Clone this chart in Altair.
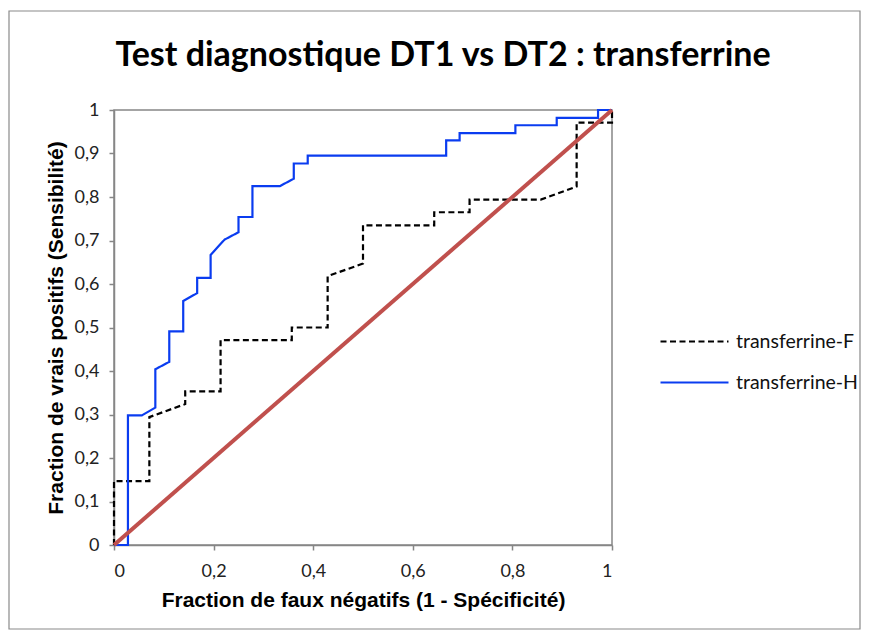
import altair as alt
import pandas as pd

# ROC curve points
h_x = [0.0, 0.028, 0.028, 0.056, 0.083, 0.083, 0.111, 0.111, 0.139, 0.139, 0.167, 0.167,
       0.194, 0.194, 0.222, 0.250, 0.250, 0.278, 0.278, 0.333, 0.361, 0.361, 0.389, 0.389,
       0.667, 0.667, 0.694, 0.694, 0.806, 0.806, 0.889, 0.889, 0.972, 0.972, 1.0]
h_y = [0.0, 0.0, 0.298, 0.298, 0.316, 0.404, 0.421, 0.491, 0.491, 0.561, 0.579, 0.614,
       0.614, 0.667, 0.702, 0.719, 0.754, 0.754, 0.825, 0.825, 0.842, 0.877, 0.877, 0.895,
       0.895, 0.930, 0.930, 0.947, 0.947, 0.965, 0.965, 0.982, 0.982, 1.0, 1.0]

f_x = [0.0, 0.0, 0.071, 0.071, 0.143, 0.143, 0.214, 0.214, 0.357, 0.357, 0.429, 0.429,
       0.500, 0.500, 0.643, 0.643, 0.714, 0.714, 0.857, 0.929, 0.929, 1.0, 1.0]
f_y = [0.0, 0.147, 0.147, 0.294, 0.324, 0.353, 0.353, 0.471, 0.471, 0.500, 0.500, 0.618,
       0.647, 0.735, 0.735, 0.765, 0.765, 0.794, 0.794, 0.824, 0.971, 0.971, 1.0]

diag_x = [0.0, 1.0]
diag_y = [0.0, 1.0]

series = ["transferrine-F", "transferrine-H"]
series_colors = ["#000000", "#0A3CF0"]
series_dash = [[6, 3.5], [1, 0]]

x_ticks = [0, 0.2, 0.4, 0.6, 0.8, 1]
y_ticks = [0, 0.1, 0.2, 0.3, 0.4, 0.5, 0.6, 0.7, 0.8, 0.9, 1]

title_text = "Test diagnostique DT1 vs DT2 : transferrine"
x_title = "Fraction de faux négatifs (1 - Spécificité)"
y_title = "Fraction de vrais positifs (Sensibilité)"

rows = []
for i, (x, y) in enumerate(zip(f_x, f_y)):
    rows.append({"serie": series[0], "x": x, "y": y, "ordre": i})
for i, (x, y) in enumerate(zip(h_x, h_y)):
    rows.append({"serie": series[1], "x": x, "y": y, "ordre": i})
df = pd.DataFrame(rows)
diag = pd.DataFrame({"x": diag_x, "y": diag_y, "ordre": [0, 1]})

label_expr = "replace(format(datum.value, '.1~f'), '.', ',')"

x_enc = alt.X("x:Q", scale=alt.Scale(domain=[0, 1], nice=False),
              axis=alt.Axis(values=x_ticks, title=x_title, labelExpr=label_expr,
                            labelPadding=12, titlePadding=9))
y_enc = alt.Y("y:Q", scale=alt.Scale(domain=[0, 1], nice=False),
              axis=alt.Axis(values=y_ticks, title=y_title, labelExpr=label_expr,
                            labelPadding=10, titlePadding=8))

legend_opts = dict(title=None, orient="none", legendX=562, legendY=213,
                   symbolType="M-2,0L2,0", symbolSize=1156,
                   symbolStrokeWidth=2.2, labelOffset=23,
                   labelFont="Lato", labelFontSize=19.5, labelColor="#111111",
                   rowPadding=13, padding=0)

lines = alt.Chart(df).mark_line(strokeWidth=2.2).encode(
    x=x_enc,
    y=y_enc,
    order="ordre:Q",
    color=alt.Color("serie:N", scale=alt.Scale(domain=series, range=series_colors),
                    legend=alt.Legend(**legend_opts)),
    strokeDash=alt.StrokeDash("serie:N", scale=alt.Scale(domain=series, range=series_dash),
                              legend=alt.Legend(**legend_opts)),
)

diag_line = alt.Chart(diag).mark_line(color="#C0504D", strokeWidth=4).encode(
    x="x:Q", y="y:Q", order="ordre:Q"
)

border = alt.Chart(pd.DataFrame({"k": [0]})).mark_rect(
    fillOpacity=0, stroke="#8A8A8A", strokeWidth=1.2
).encode(
    x=alt.value(-105), x2=alt.value(746), y=alt.value(-99), y2=alt.value(519)
)

chart = alt.layer(border, lines, diag_line).properties(
    width=498,
    height=435,
    padding={"left": 106, "top": 102, "right": 250, "bottom": 86},
    autosize=alt.AutoSizeParams(type="none"),
    title=alt.TitleParams(title_text, font="Lato", fontSize=34, fontWeight="bold",
                          color="#000000", anchor="middle", frame="group", dx=80, dy=93,
                          offset=30),
).configure_view(
    stroke="#868686", strokeWidth=1.5
).configure_axis(
    grid=False,
    domainColor="#868686", domainWidth=1.5,
    tickColor="#868686", tickWidth=1.5, tickSize=5,
    labelFont="Lato", labelFontSize=18, labelColor="#222222",
    titleFont="Liberation Sans", titleFontSize=21, titleFontWeight="bold", titleColor="#000000",
)

chart.save("out.html", embed_options={"renderer": "svg", "actions": False})
